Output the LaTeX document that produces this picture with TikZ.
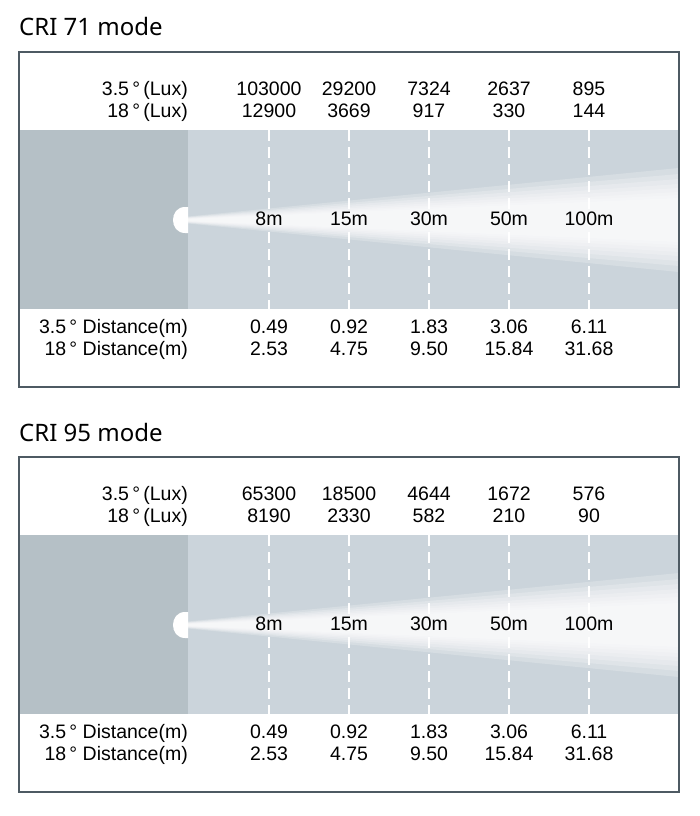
\documentclass[tikz,border=0pt]{standalone}
\usepackage{fontspec}
\setmainfont{Liberation Sans}
\newfontfamily\titlefont{Noto Sans}
\usepackage{xcolor}

\definecolor{bandgray}{HTML}{CBD4DB}
\definecolor{lampgray}{HTML}{B5C0C6}
\definecolor{framegray}{HTML}{4E5A63}

\tikzset{
  frame/.style={draw=framegray, line width=1.4pt},
  meter/.style={draw=white, line width=1.4pt, dash pattern=on 11pt off 6pt},
  rowlabel/.style={anchor=base east, inner sep=0pt},
  cell/.style={anchor=base, inner sep=0pt},
  heading/.style={anchor=base west, inner sep=0pt, font=\titlefont\fontsize{24}{28}\selectfont},
}

% one panel: #1 = y offset, #2 = name prefix, #3 = title, #4 = lux values
\newcommand\beampanel[4]{%
\begin{scope}[shift={(0,#1)}]
\node[heading] (#2-title) at (19,36) {#3};
% band
\fill[bandgray] (188,130) rectangle (679,309);
\fill[lampgray] (19,130) rectangle (188,309);
\begin{scope}
\clip (188,130) rectangle (679,309);
\foreach \a/\b in {3.5/52,3/46,2.6/41,2.2/36,1.9/32,1.6/28,1.3/25,1/22}
  \fill[white, opacity=0.22] ({188},{220-\a}) -- ({679},{220-\b})
     -- ({679},{220+\b}) -- ({188},{220+\a}) -- cycle;
\end{scope}
\fill[white] (188,207) -- (185,207) .. controls (169,207) and (169,233) .. (185,233)
   -- (188,233) -- cycle;
% columns
\foreach \m/\hi/\lo/\dn/\dw [count=\i] in {#4} {
  \coordinate (#2-top-\i) at ({189+80*\i},130);
  \coordinate (#2-bot-\i) at ({189+80*\i},309);
  \draw[meter] (#2-top-\i) -- (#2-bot-\i);
  \node[cell] (#2-m-\i) at ({189+80*\i},225) {\m};
  \node[cell] (#2-hi-\i) at ({189+80*\i},95) {\hi};
  \node[cell] (#2-lo-\i) at ({189+80*\i},117) {\lo};
  \node[cell] (#2-dn-\i) at ({189+80*\i},333) {\dn};
  \node[cell] (#2-dw-\i) at ({189+80*\i},355) {\dw};
}
\node[rowlabel] (#2-luxn) at (188,95) {3.5\,°\,(Lux)};
\node[rowlabel] (#2-luxw) at (188,117) {18\,°\,(Lux)};
\node[rowlabel] (#2-distn) at (188,333) {3.5\,°\ Distance(m)};
\node[rowlabel] (#2-distw) at (188,355) {18\,°\ Distance(m)};
\draw[frame] (19,52) rectangle (679,387);
\end{scope}}

\begin{document}
\begin{tikzpicture}[x=1pt, y=-1pt, font=\fontsize{19.5}{22}\selectfont]
\useasboundingbox[fill=white] (0,0) rectangle (700,816);

\beampanel{0}{cri71}{CRI 71 mode}{8m/103000/12900/0.49/2.53, 15m/29200/3669/0.92/4.75,
  30m/7324/917/1.83/9.50, 50m/2637/330/3.06/15.84, 100m/895/144/6.11/31.68}

\beampanel{405}{cri95}{CRI 95 mode}{8m/65300/8190/0.49/2.53, 15m/18500/2330/0.92/4.75,
  30m/4644/582/1.83/9.50, 50m/1672/210/3.06/15.84, 100m/576/90/6.11/31.68}

\end{tikzpicture}
\end{document}
